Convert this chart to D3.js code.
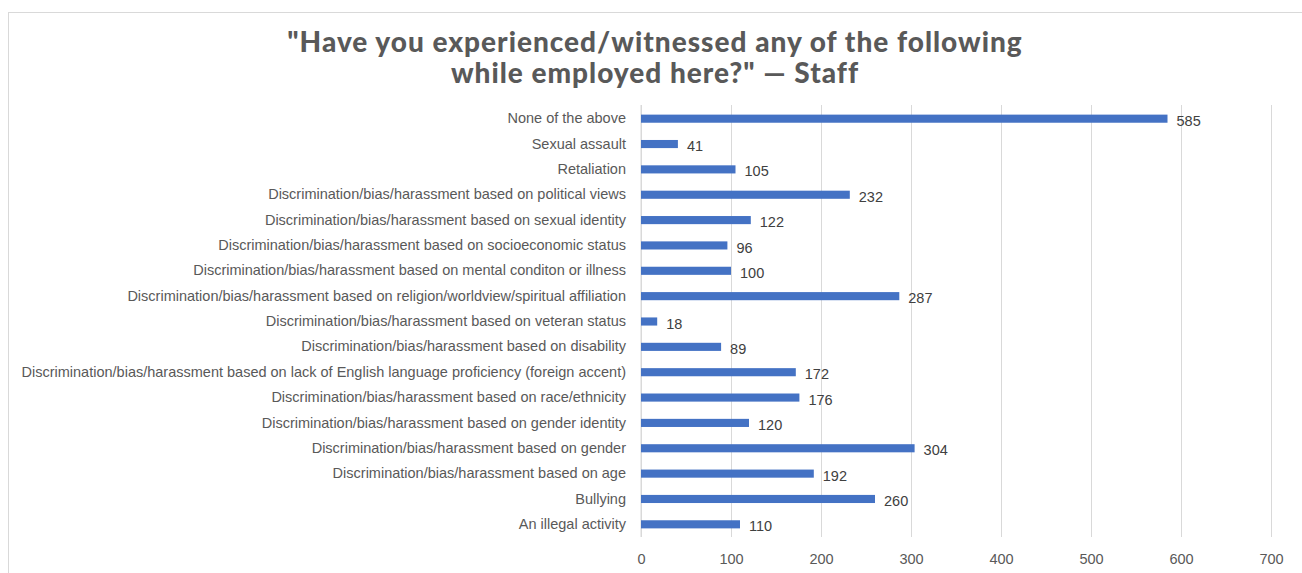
<!DOCTYPE html>
<html lang="en">

<head>
    <meta charset="utf-8">
    <title>Staff experiences</title>
    <script type="text/javascript" src="https://d3js.org/d3.v7.min.js"></script>
    <style type="text/css">
        body {
            margin: 0;
            background: #ffffff;
        }
    </style>
</head>

<body>
    <svg width="1302" height="573"></svg>
    <script type="text/javascript">
        //Categories top to bottom, as in the chart
        const categories = ['None of the above', 'Sexual assault', 'Retaliation',
            'Discrimination/bias/harassment based on political views',
            'Discrimination/bias/harassment based on sexual identity',
            'Discrimination/bias/harassment based on socioeconomic status',
            'Discrimination/bias/harassment based on mental conditon or illness',
            'Discrimination/bias/harassment based on religion/worldview/spiritual affiliation',
            'Discrimination/bias/harassment based on veteran status',
            'Discrimination/bias/harassment based on disability',
            'Discrimination/bias/harassment based on lack of English language proficiency (foreign accent)',
            'Discrimination/bias/harassment based on race/ethnicity',
            'Discrimination/bias/harassment based on gender identity',
            'Discrimination/bias/harassment based on gender',
            'Discrimination/bias/harassment based on age',
            'Bullying', 'An illegal activity']
        const counts = [585, 41, 105, 232, 122, 96, 100, 287, 18, 89, 172, 176, 120, 304, 192, 260, 110]
        const tickValues = [0, 100, 200, 300, 400, 500, 600, 700]
        const titleLines = ['"Have you experienced/witnessed any of the following',
            'while employed here?" \u2014 Staff']

        const svg = d3.select("svg");
        const w = 1302;
        const h = 573;
        const barColor = '#4472C4';
        const labelFont = 'Liberation Sans Narrow, Arial Narrow, sans-serif';

        const dataset = categories.map((c, i) => ({ cat: c, value: counts[i] }))

        //Chart frame (runs off the right and bottom edges)
        svg.append('rect')
            .attr('x', 8.5)
            .attr('y', 12.5)
            .attr('width', w + 10)
            .attr('height', h + 10)
            .attr('fill', 'none')
            .attr('stroke', '#d9d9d9')

        //Title
        svg.append('text')
            .attr('x', 655)
            .attr('text-anchor', 'middle')
            .style('font-family', 'Lato, sans-serif')
            .style('font-weight', 900)
            .style('font-size', '28px')
            .style('letter-spacing', '1px')
            .style('fill', '#595959')
            .selectAll('tspan')
            .data(titleLines)
            .enter()
            .append('tspan')
            .attr('x', 655)
            .attr('y', (d, i) => 52 + i * 31)
            .text(d => d)

        //Scales
        const xScale = d3.scaleLinear()
            .domain([0, 700])
            .range([641, 1271]);

        const yScale = d3.scaleBand()
            .domain(categories)
            .range([106, 537])
            .paddingInner(0.68)
            .paddingOuter(0.34);

        //Vertical gridlines + tick labels
        const bottomAxis = d3.axisBottom()
            .scale(xScale)
            .tickValues(tickValues)
            .tickSize(-(537 - 105))
            .tickPadding(17);

        svg.append('g')
            .attr('transform', 'translate(0,537)')
            .call(bottomAxis)
            .call(g => g.select(".domain").remove())
            .call(g => g.selectAll(".tick line")
                .attr("stroke", "#d9d9d9"))
            .call(g => g.selectAll(".tick text")
                .style('font-family', labelFont)
                .style('font-size', '14.5px')
                .attr('fill', '#595959'))

        //Category axis
        const leftAxis = d3.axisLeft()
            .scale(yScale)
            .tickSize(0)
            .tickPadding(15);

        svg.append('g')
            .attr('transform', 'translate(641,0)')
            .call(leftAxis)
            .call(g => g.select(".domain")
                .attr('stroke', '#d9d9d9')
                .attr('d', 'M0,105V537'))
            .call(g => g.selectAll(".tick text")
                .style('font-family', labelFont)
                .style('font-size', '14.5px')
                .attr('fill', '#595959'))

        //Bars
        svg.selectAll("rect.bar")
            .data(dataset)
            .enter()
            .append("rect")
            .attr('class', 'bar')
            .attr('x', xScale(0))
            .attr('y', d => yScale(d.cat))
            .attr('width', d => xScale(d.value) - xScale(0))
            .attr('height', yScale.bandwidth())
            .attr('fill', barColor)

        //Value labels
        svg.selectAll("text.val")
            .data(dataset)
            .enter()
            .append("text")
            .attr('class', 'val')
            .attr('x', d => xScale(d.value) + 9)
            .attr('y', d => yScale(d.cat) + yScale.bandwidth() / 2 + 2)
            .attr('dy', '0.35em')
            .style('font-family', labelFont)
            .style('font-size', '14.5px')
            .attr('fill', '#404040')
            .text(d => d.value)
    </script>
</body>

</html>
